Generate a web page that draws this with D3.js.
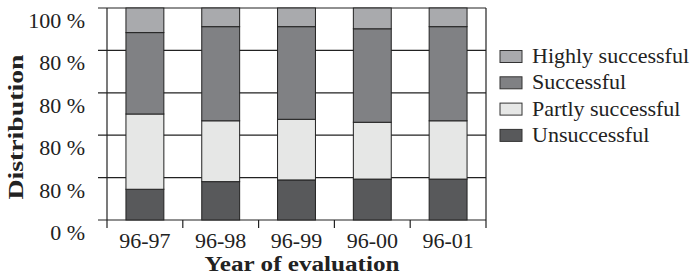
<!DOCTYPE html>
<html>
<head>
<meta charset="utf-8">
<script src="https://cdn.jsdelivr.net/npm/d3@7/dist/d3.min.js"></script>
<style>
  body { margin: 0; background: #fff; }
  text { font-family: "Liberation Serif", "Times New Roman", serif; fill: #222; }
</style>
</head>
<body>
<div id="chart"></div>
<script>
var w = 695;
var h = 277;

var years = ["96-97", "96-98", "96-99", "96-00", "96-01"];
var seriesNames = ["Unsuccessful", "Partly successful", "Successful", "Highly successful"];
var unsuccessful = [14.5, 18.1, 18.9, 19.3, 19.3];
var partly = [35.5, 28.7, 28.6, 26.8, 27.5];
var successful = [38.4, 44.4, 43.7, 44.1, 44.4];
var highly = [11.6, 8.8, 8.8, 9.8, 8.8];
var tickValues = [0, 20, 40, 60, 80, 100];
var tickLabels = ["0 %", "80 %", "80 %", "80 %", "80 %", "100 %"];
var colors = ["#58595b", "#e6e7e6", "#808184", "#a9aaad"];

var plotLeft = 107, plotRight = 486, plotTop = 8, plotBottom = 220;

var svg = d3.select("#chart")
	.append("svg")
	.attr("width", w)
	.attr("height", h);

var rows = years.map(function(y, i) {
	return {
		year: y,
		"Unsuccessful": unsuccessful[i],
		"Partly successful": partly[i],
		"Successful": successful[i],
		"Highly successful": highly[i]
	};
});

var stacked = d3.stack().keys(seriesNames)(rows);

var xScale = d3.scaleBand()
	.domain(years)
	.range([plotLeft, plotRight])
	.paddingInner(0.5)
	.paddingOuter(0.25);

var yScale = d3.scaleLinear()
	.domain([0, 100])
	.range([plotBottom, plotTop]);

// horizontal grid lines, also acting as left ticks
svg.append("g")
	.selectAll("line")
	.data(tickValues)
	.enter()
	.append("line")
	.attr("x1", plotLeft - 9)
	.attr("x2", plotRight)
	.attr("y1", function(d) { return yScale(d); })
	.attr("y2", function(d) { return yScale(d); })
	.attr("stroke", "#222")
	.attr("stroke-width", 1.2);

// bars
svg.append("g")
	.selectAll("g")
	.data(stacked)
	.enter()
	.append("g")
	.attr("fill", function(d, i) { return colors[i]; })
	.selectAll("rect")
	.data(function(d) { return d; })
	.enter()
	.append("rect")
	.attr("x", function(d) { return xScale(d.data.year); })
	.attr("y", function(d) { return yScale(d[1]); })
	.attr("width", xScale.bandwidth())
	.attr("height", function(d) { return yScale(d[0]) - yScale(d[1]); })
	.attr("stroke", "#222")
	.attr("stroke-width", 1);

// frame verticals
svg.append("line")
	.attr("x1", plotLeft).attr("x2", plotLeft)
	.attr("y1", plotTop).attr("y2", plotBottom + 8)
	.attr("stroke", "#222").attr("stroke-width", 1.2);
svg.append("line")
	.attr("x1", plotRight).attr("x2", plotRight)
	.attr("y1", plotTop).attr("y2", plotBottom + 8)
	.attr("stroke", "#222").attr("stroke-width", 1.2);

// bottom ticks at band boundaries
var step = xScale.step();
svg.append("g")
	.selectAll("line")
	.data(years.slice(1))
	.enter()
	.append("line")
	.attr("x1", function(d) { return xScale(d) - step * 0.25; })
	.attr("x2", function(d) { return xScale(d) - step * 0.25; })
	.attr("y1", plotBottom)
	.attr("y2", plotBottom + 8)
	.attr("stroke", "#222")
	.attr("stroke-width", 1.2);

// y tick labels
svg.append("g")
	.selectAll("text")
	.data(tickValues)
	.enter()
	.append("text")
	.attr("x", 85)
	.attr("y", function(d) { return yScale(d) + 20; })
	.style("text-anchor", "end")
	.style("font-size", "22px")
	.text(function(d, i) { return tickLabels[i]; });

// x tick labels
svg.append("g")
	.selectAll("text")
	.data(years)
	.enter()
	.append("text")
	.attr("x", function(d) { return xScale(d) + xScale.bandwidth() / 2; })
	.attr("y", 248)
	.style("text-anchor", "middle")
	.style("font-size", "22px")
	.text(function(d) { return d; });

// axis titles
svg.append("text")
	.attr("x", 302)
	.attr("y", 271)
	.attr("textLength", 195)
	.attr("lengthAdjust", "spacingAndGlyphs")
	.style("text-anchor", "middle")
	.style("font-size", "20px")
	.style("font-weight", "bold")
	.text("Year of evaluation");

svg.append("text")
	.attr("transform", "translate(23,127) rotate(-90)")
	.attr("textLength", 145)
	.attr("lengthAdjust", "spacingAndGlyphs")
	.style("text-anchor", "middle")
	.style("font-size", "22px")
	.style("font-weight", "bold")
	.text("Distribution");

// legend
var legendOrder = seriesNames.slice().reverse();
var legend = svg.append("g")
	.selectAll("g")
	.data(legendOrder)
	.enter()
	.append("g")
	.attr("transform", function(d, i) { return "translate(500," + (63 + i * 26.3) + ")"; });

legend.append("rect")
	.attr("x", 0)
	.attr("y", -12.5)
	.attr("width", 22)
	.attr("height", 12)
	.attr("fill", function(d) { return colors[seriesNames.indexOf(d)]; })
	.attr("stroke", "#333")
	.attr("stroke-width", 1);

legend.append("text")
	.attr("x", 32)
	.attr("y", 0)
	.style("font-size", "22px")
	.text(function(d) { return d; });
</script>
</body>
</html>
